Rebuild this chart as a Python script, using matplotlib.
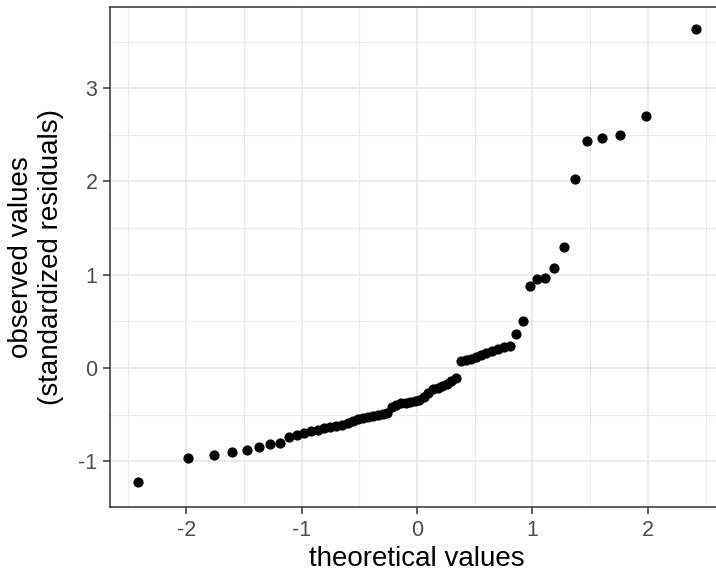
import matplotlib
matplotlib.use("Agg")
import matplotlib.pyplot as plt
from matplotlib.ticker import MultipleLocator

plt.rcParams["font.family"] = ["Liberation Sans", "DejaVu Sans"]
plt.rcParams["axes.unicode_minus"] = False

# theoretical normal quantiles (n = 64)
theoretical = [
    -2.418, -1.987, -1.762, -1.601, -1.473, -1.366, -1.273, -1.189,
    -1.113, -1.043, -0.978, -0.917, -0.859, -0.803, -0.750, -0.699,
    -0.650, -0.602, -0.556, -0.511, -0.467, -0.423, -0.381, -0.339,
    -0.298, -0.258, -0.218, -0.178, -0.137, -0.098, -0.059, -0.020,
    0.020, 0.059, 0.098, 0.137, 0.178, 0.218, 0.258, 0.298,
    0.339, 0.381, 0.423, 0.467, 0.511, 0.556, 0.602, 0.650,
    0.699, 0.750, 0.803, 0.859, 0.917, 0.978, 1.043, 1.113,
    1.189, 1.273, 1.366, 1.473, 1.601, 1.762, 1.987, 2.418,
]

# observed standardized residuals, sorted
observed = [
    -1.22, -0.97, -0.93, -0.90, -0.88, -0.85, -0.82, -0.80,
    -0.74, -0.72, -0.70, -0.68, -0.66, -0.64, -0.63, -0.62,
    -0.61, -0.59, -0.57, -0.55, -0.54, -0.53, -0.51, -0.50,
    -0.49, -0.48, -0.42, -0.40, -0.38, -0.37, -0.36, -0.35,
    -0.34, -0.31, -0.27, -0.23, -0.21, -0.19, -0.17, -0.14,
    -0.11, 0.07, 0.09, 0.10, 0.12, 0.14, 0.16, 0.18,
    0.20, 0.22, 0.24, 0.36, 0.50, 0.88, 0.955, 0.97,
    1.075, 1.30, 2.03, 2.43, 2.47, 2.50, 2.70, 3.63,
]

x_ticks = [-2, -1, 0, 1, 2]
y_ticks = [-1, 0, 1, 2, 3]

W, H = 716, 574
fig = plt.figure(figsize=(W / 100, H / 100), dpi=100)
fig.patch.set_facecolor("white")
ax = fig.add_axes([110 / W, 67 / H, 614 / W, 500 / H])

ax.scatter(theoretical, observed, s=54, color="black", zorder=3, linewidths=0)

ax.set_xlim(-2.66, 2.66)
ax.set_ylim(-1.49, 3.87)
ax.set_xticks(x_ticks)
ax.set_yticks(y_ticks)
ax.xaxis.set_minor_locator(MultipleLocator(0.5))
ax.yaxis.set_minor_locator(MultipleLocator(0.5))

ax.grid(which="major", color="#EBEBEB", linewidth=1.5, zorder=0)
ax.grid(which="minor", color="#EBEBEB", linewidth=0.8, zorder=0)
ax.set_axisbelow(True)

for sp in ax.spines.values():
    sp.set_color("#333333")
    sp.set_linewidth(1.1)

ax.tick_params(which="major", length=5, width=1.1, color="#333333",
               labelsize=15.5, labelcolor="#4D4D4D", pad=4)
ax.tick_params(which="minor", length=0)

ax.set_xlabel("theoretical values", fontsize=20, color="black", labelpad=4)
ax.set_ylabel("observed values\n(standardized residuals)", fontsize=20,
              color="black", labelpad=10, linespacing=1.2)

fig.savefig("out.png", dpi=100, facecolor="white")
